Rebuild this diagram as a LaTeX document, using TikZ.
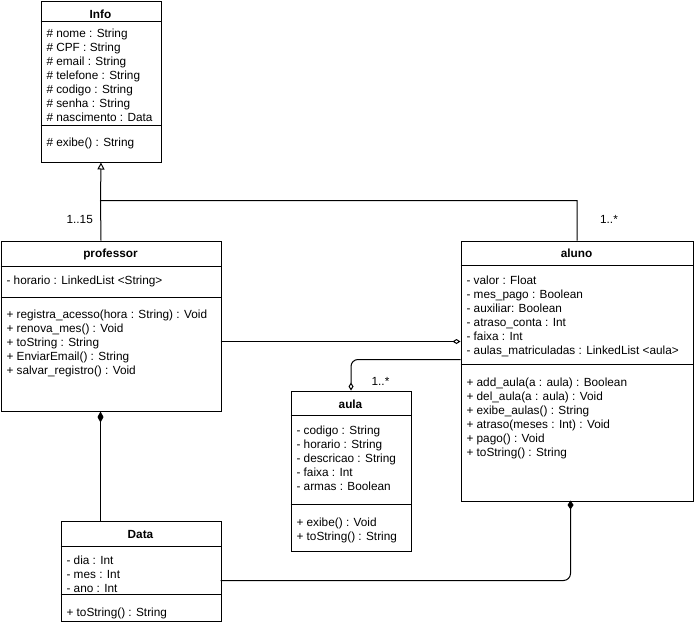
\documentclass[tikz,border=0pt]{standalone}
\usepackage{fontspec}
\setmainfont{Liberation Sans}
\usetikzlibrary{arrows.meta}
\begin{document}
\begin{tikzpicture}[x=1pt,y=-1pt, line width=1pt,
 box/.style={draw, rectangle, inner sep=0, anchor=north west, fill=white},
 txt/.style={anchor=base west, inner sep=0, font=\fontsize{11.8}{14}\selectfont},
 ttl/.style={anchor=base, inner sep=0, font=\bfseries\fontsize{11.8}{14}\selectfont},
 lbl/.style={anchor=base, inner sep=0, font=\fontsize{11.8}{14}\selectfont},
 gen/.style={-{Triangle[open,fill=white,length=7pt,width=7pt]}},
 agg/.style={-{Diamond[open,fill=white,length=8pt,width=5pt]}},
 comp/.style={-{Diamond[length=11pt,width=6pt]}},
 compb/.style={-{Diamond[length=9pt,width=6pt]}},
]
\useasboundingbox (0,0) rectangle (694,624);

% class boxes
\node[box, minimum width=120pt, minimum height=161pt] (info) at (40.5,0.5) {};
\node[box, minimum width=220pt, minimum height=170pt] (professor) at (0.5,240.5) {};
\node[box, minimum width=232pt, minimum height=260pt] (aluno) at (460.5,240.5) {};
\node[box, minimum width=120pt, minimum height=160pt] (aula) at (290.5,390.5) {};
\node[box, minimum width=160pt, minimum height=100pt] (data) at (60.5,520.5) {};

% compartment dividers
\draw (info.west |- 0,21) -- (info.east |- 0,21);
\draw (info.west |- 0,125.5) -- (info.east |- 0,125.5);
\draw (professor.west |- 0,266.5) -- (professor.east |- 0,266.5);
\draw (professor.west |- 0,297.5) -- (professor.east |- 0,297.5);
\draw (aluno.west |- 0,265.5) -- (aluno.east |- 0,265.5);
\draw (aluno.west |- 0,364.5) -- (aluno.east |- 0,364.5);
\draw (aula.west |- 0,415.5) -- (aula.east |- 0,415.5);
\draw (aula.west |- 0,504.5) -- (aula.east |- 0,504.5);
\draw (data.west |- 0,546.5) -- (data.east |- 0,546.5);
\draw (data.west |- 0,594.5) -- (data.east |- 0,594.5);

% Info
\node[ttl] (infot) at (100.5,18.5) {Info};
\foreach \t [count=\i from 0] in {\# nome : String, \# CPF : String, \# email : String, \# telefone : String, \# codigo : String, \# senha : String, \# nascimento : Data}
  \node[txt] (infoa\i) at (46,{37.8+14*\i}) {\t};
\node[txt] (infom0) at (46,146) {\# exibe() : String};

% professor
\node[ttl] (proft) at (110.5,257.5) {professor};
\node[txt] (profa0) at (6,284.5) {- horario : LinkedList <String>};
\foreach \t [count=\i from 0] in {+ registra\_acesso(hora : String) : Void, + renova\_mes() : Void, + toString : String, + EnviarEmail() : String, + salvar\_registro() : Void}
  \node[txt] (profm\i) at (6,{318.5+14*\i}) {\t};

% aluno
\node[ttl] (alunot) at (576.5,257.5) {aluno};
\foreach \t [count=\i from 0] in {- valor : Float, - mes\_pago : Boolean, - auxiliar: Boolean, - atraso\_conta : Int, - faixa : Int, - aulas\_matriculadas : LinkedList <aula>}
  \node[txt] (alunoa\i) at (466,{284.5+14*\i}) {\t};
\foreach \t [count=\i from 0] in {+ add\_aula(a : aula) : Boolean, + del\_aula(a : aula) : Void, + exibe\_aulas() : String, + atraso(meses : Int) : Void, + pago() : Void, + toString() : String}
  \node[txt] (alunom\i) at (466,{386+14*\i}) {\t};

% aula
\node[ttl] (aulat) at (350.5,408) {aula};
\foreach \t [count=\i from 0] in {- codigo : String, - horario : String, - descricao : String, - faixa : Int, - armas : Boolean}
  \node[txt] (aulaa\i) at (296,{434+14*\i}) {\t};
\foreach \t [count=\i from 0] in {+ exibe() : Void, + toString() : String}
  \node[txt] (aulam\i) at (296,{526+14*\i}) {\t};

% Data
\node[ttl] (datat) at (140.5,538) {Data};
\foreach \t [count=\i from 0] in {- dia : Int, - mes : Int, - ano : Int}
  \node[txt] (dataa\i) at (66,{564.5+14*\i}) {\t};
\node[txt] (datam0) at (66,616) {+ toString() : String};

% connectors
\coordinate (j) at (100.5,200.5);
\draw[gen] (aluno.north) |- (j) -- (info.south);
\draw (professor.north -| info.south) -- (j);
\node[lbl] (l1) at (79.7,223) {1..15};
\node[lbl] (l2) at (609,223) {1..*};

\coordinate (pa) at (220.5,341.5);
\draw[agg] (pa) -- (pa -| aluno.west);

\coordinate (au) at (460.5,359.5);
\draw[agg, rounded corners=7pt] (au) -| (aula.north);
\node[lbl] (l3) at (380.5,385) {1..*};

\coordinate (pd) at (100.5,520.5);
\draw[comp] (pd) -- (pd |- professor.south);

\coordinate (da) at (220.5,580.5);
\coordinate (ab) at (570.5,500.5);
\draw[compb, rounded corners=7pt] (da) -| (ab);
\end{tikzpicture}
\end{document}
